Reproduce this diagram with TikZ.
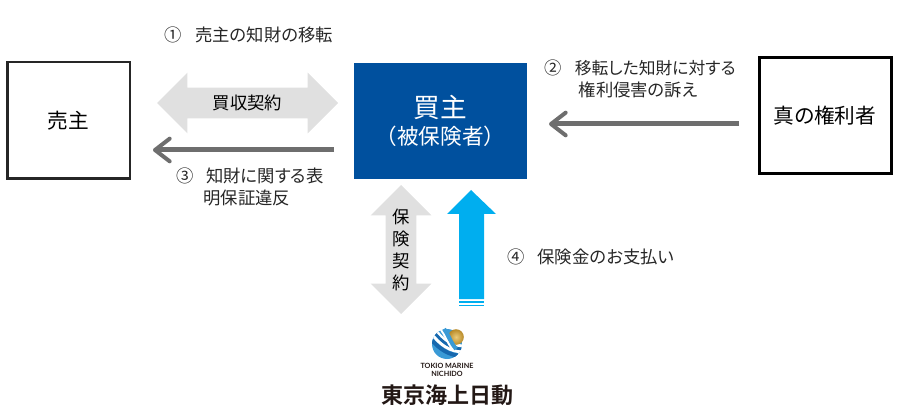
\documentclass[tikz,border=0pt]{standalone}
\usepackage{fontspec}
\setmainfont[CharacterWidth=AlternateProportional]{Noto Sans CJK JP}
\newfontfamily\fullwidthjp{Noto Sans CJK JP}
\newfontfamily\logolatin{Lato Bold}
\newfontfamily\logojp{Noto Sans CJK JP Bold}
\usetikzlibrary{arrows.meta,shapes.arrows}
\definecolor{navybox}{HTML}{00509E}
\definecolor{skyarrow}{HTML}{00AEEF}
\definecolor{paleblock}{HTML}{E0E0E0}
\definecolor{darkline}{HTML}{6E6E6E}
\definecolor{logoblue}{HTML}{3A9AD6}
\definecolor{logodeep}{HTML}{1768AE}
\definecolor{logogold}{HTML}{B88A28}
\definecolor{logoglow}{HTML}{EBCB7A}
\definecolor{logotext}{HTML}{231815}
\begin{document}
\begin{tikzpicture}[x=0.75pt,y=-0.75pt]
    \tikzstyle{party}=[draw=black, inner sep=0pt, font=\fontsize{15.5}{18}\selectfont]
    \tikzstyle{note}=[anchor=west, inner sep=0pt, align=left, text=black!85, font=\fontsize{13}{17}\selectfont]
    \tikzstyle{block}=[double arrow, fill=paleblock, inner xsep=0pt, inner ysep=11.25pt, double arrow head extend=11.25pt, double arrow tip angle=90]
    \tikzstyle{claim}=[line width=3.75pt, draw=darkline, -{Straight Barb[length=11pt,width=17pt,line width=3pt,round]}]
    \useasboundingbox (0,0) rectangle (902,413);
    % the three parties
    \node[party, line width=2pt, draw=black!85, minimum width=92pt, minimum height=87.5pt] (seller) at (68.5,120.5) {売主};
    \node[party, fill=navybox, draw=none, text=white, minimum width=130pt, minimum height=87pt, align=center] (buyer) at (440.5,121)
        {{\fontsize{20}{25}\selectfont 買主}\\[2pt]{\fullwidthjp\fontsize{16.2}{18}\selectfont （被保険者）}};
    \node[party, line width=2.25pt, minimum width=99pt, minimum height=87pt] (owner) at (825,116) {真の権利者};
    % contract arrows
    \node[block, minimum height=135.75pt, minimum width=45pt] (buyout) at (247.5,103) {};
    \node[font=\fontsize{13}{16}\selectfont, inner sep=0pt] (buyouttext) at (buyout.center) {買収契約};
    \node[block, rotate=90, minimum height=96.75pt, minimum width=45pt] (policy) at (401,249.5) {};
    \node[font=\fontsize{13}{16.5}\selectfont, inner sep=0pt, align=center] (policytext) at (policy.center) {保\\険\\契\\約};
    % claims
    \coordinate (buyerleft) at (334,150);
    \coordinate (sellerright) at (153,150);
    \coordinate (ownerleft) at (739,124);
    \coordinate (buyerright) at (549,124);
    \draw[claim] (buyerleft) -- (sellerright);
    \draw[claim] (ownerleft) -- (buyerright);
    % payment
    \fill[skyarrow] (471,190) -- (496,214) -- (484,214) -- (484,299) -- (459,299) -- (459,214) -- (447,214) -- cycle;
    \fill[skyarrow] (459,300.5) rectangle (484,303);
    \fill[skyarrow] (459,304.5) rectangle (484,306);
    % notes
    \node[note] (note1) at (164,35) {①\hspace{10.5pt}売主の知財の移転};
    \node[note] (note2) at (544,79) {②\hspace{10pt}{\fontsize{12.6}{17}\selectfont 移転した知財に対する}\\\hspace{26pt}権利侵害の訴え};
    \node[note] (note3) at (176,187) {③\hspace{9.5pt}知財に関する表\\\hspace{20.5pt}明保証違反};
    \node[note] (note4) at (507,257) {④\hspace{9.8pt}保険金のお支払い};
    % logo
    \begin{scope}
        \clip (447,344) circle (15);
        \fill[logoblue] (447,344) circle (15);
        \draw[logodeep, line width=3pt] (430,338) .. controls (440,350) and (450,356) .. (464,356);
        \draw[white, line width=2.2pt] (431,333) .. controls (440,345) and (450,352) .. (464,352);
        \draw[white, line width=2.2pt] (434,328) .. controls (442,340) and (452,346) .. (465,346);
        \draw[logodeep, line width=2pt] (434,332) .. controls (442,342) and (450,348) .. (462,349);
    \end{scope}
    \shade[inner color=logoglow, outer color=logogold] (456,337) circle (7.8);
    \draw[logoblue, line width=3.2pt] (444,329) .. controls (448,334) and (450,342) .. (456,349);
    \draw[white, line width=1.4pt] (441,330) .. controls (445,335) and (447,343) .. (453,350);
    \node[inner sep=0pt, align=center, text=logotext, font=\logolatin\fontsize{5.4}{6.2}\selectfont] (logomark) at (447,370) {TOKIO MARINE\\NICHIDO};
    \node[inner sep=0pt, text=logotext, font=\logojp\fontsize{16.5}{18}\selectfont] (logoname) at (447,395) {東京海上日動};
\end{tikzpicture}
\end{document}
